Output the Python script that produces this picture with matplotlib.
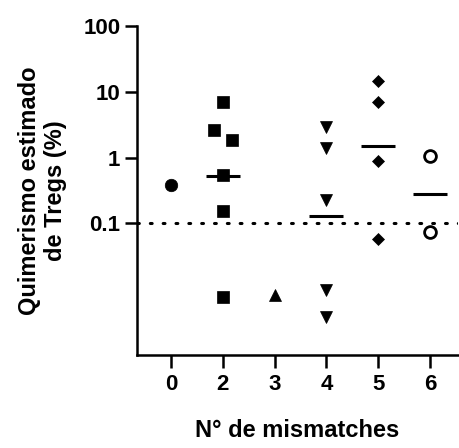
import numpy as np
import matplotlib
matplotlib.use("Agg")
import matplotlib.pyplot as plt

plt.rcParams['font.family'] = ['Liberation Sans', 'DejaVu Sans']
plt.rcParams['font.weight'] = 'bold'

# Categorias (nº de mismatches) e valores (%)
categorias = ['0', '2', '3', '4', '5', '6']
mm0 = [0.377]
mm2 = [6.9, 2.65, 1.87, 0.55, 0.157, 0.0076]
mm3 = [0.0081]
mm4 = [2.88, 1.42, 0.223, 0.0097, 0.0038]
mm5 = [14.7, 7.1, 0.90, 0.057]
mm6 = [1.07, 0.074]

# deslocamento horizontal (jitter) dos pontos do grupo 2
jitter2 = [0, -0.17, 0.17, 0, 0, 0]

grupos = [mm0, mm2, mm3, mm4, mm5, mm6]
marcadores = ['o', 's', '^', 'v', 'D', 'o']
tamanhos = [9, 9, 9, 9, 6.5, 8.5]

fig = plt.figure(figsize=(4.59, 4.48), dpi=100)
ax = fig.add_axes([137 / 459, 1 - 355 / 448, (458 - 137) / 459, (355 - 26) / 448])

for i, (vals, m, s) in enumerate(zip(grupos, marcadores, tamanhos)):
    xs = np.full(len(vals), i, dtype=float)
    if i == 1:
        xs = xs + np.array(jitter2)
    face = 'white' if i == 5 else 'black'
    ax.plot(xs, vals, linestyle='none', marker=m, markersize=s,
            markerfacecolor=face, markeredgecolor='black',
            markeredgewidth=2 if i == 5 else 0.5)
    # linha da média geométrica
    if len(vals) > 1:
        gm = 10 ** np.mean(np.log10(vals))
        ax.plot([i - 0.33, i + 0.33], [gm, gm], color='black', lw=2.2,
                solid_capstyle='butt')

ax.axhline(0.1, color='black', lw=2.2, linestyle=(0, (0.6, 3.6)),
           dash_capstyle='round')

ax.set_yscale('log')
ax.set_ylim(0.001, 100)
ax.set_xlim(-0.654, 5.54)
ax.set_yticks([0.1, 1, 10, 100])
ax.set_yticklabels(['0.1', '1', '10', '100'])
ax.yaxis.set_minor_locator(matplotlib.ticker.NullLocator())
ax.set_xticks(range(len(categorias)))
ax.set_xticklabels(categorias)

ax.spines['top'].set_visible(False)
ax.spines['right'].set_visible(False)
for sp in ['left', 'bottom']:
    ax.spines[sp].set_linewidth(1.8)
ax.tick_params(axis='both', length=9, width=1.8, labelsize=16, pad=3)
ax.tick_params(axis='x', pad=5)

ax.set_ylabel('Quimerismo estimado\nde Tregs (%)', fontsize=17,
              fontweight='bold', labelpad=12, linespacing=1.15)
ax.set_xlabel('N° de mismatches', fontsize=17, fontweight='bold',
              labelpad=17)

plt.savefig('out.png', dpi=100)
plt.close()
